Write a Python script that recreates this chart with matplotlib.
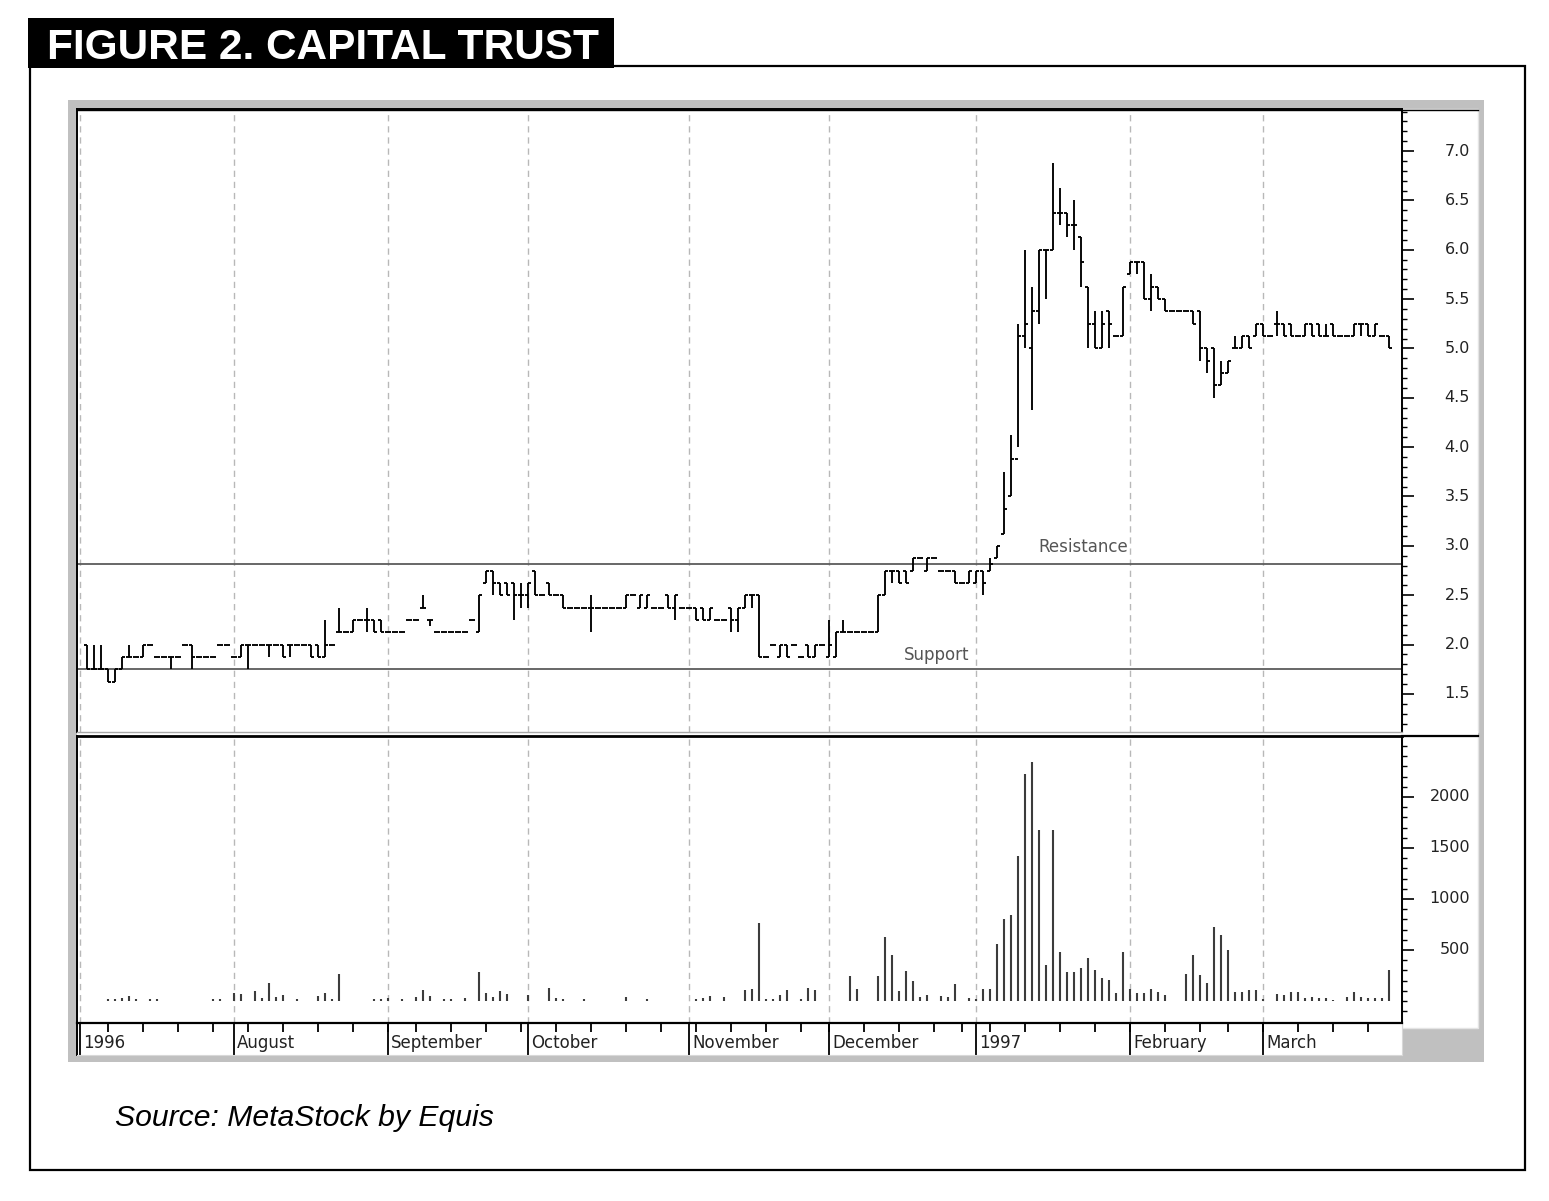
import numpy as np
import pandas as pd
import matplotlib
matplotlib.use("Agg")
import matplotlib.pyplot as plt
from matplotlib.patches import Rectangle
from matplotlib.lines import Line2D
from matplotlib.transforms import blended_transform_factory

# ---------------- data ----------------
holidays = ["1996-07-04", "1996-09-02", "1996-11-28", "1996-12-25",
            "1997-01-01", "1997-02-17", "1997-03-28"]
dates = pd.bdate_range("1996-07-02", "1997-03-27", freq="C", holidays=holidays)

opens = [
    2.0, 1.75, 1.75, 1.75, 1.625, 1.75, 1.875, 1.875, 1.875, 2.0,
    1.875, 1.875, 1.875, 1.875, 2.0, 2.0, 1.875, 1.875, 1.875, 2.0,
    2.0, 1.875, 1.875, 2.0, 2.0, 2.0, 2.0, 2.0, 2.0, 2.0,
    2.0, 2.0, 2.0, 2.0, 1.875, 2.0, 2.125, 2.125, 2.125, 2.25,
    2.25, 2.25, 2.25, 2.125, 2.125, 2.125, 2.25, 2.25, 2.375, 2.25,
    2.125, 2.125, 2.125, 2.125, 2.125, 2.25, 2.125, 2.625, 2.75, 2.625,
    2.625, 2.625, 2.5, 2.5, 2.75, 2.5, 2.625, 2.5, 2.5, 2.375,
    2.375, 2.375, 2.375, 2.375, 2.375, 2.375, 2.375, 2.375, 2.5, 2.375,
    2.375, 2.375, 2.375, 2.5, 2.375, 2.375, 2.375, 2.375, 2.375, 2.25,
    2.25, 2.25, 2.375, 2.25, 2.375, 2.5, 2.5, 1.875, 2.0, 1.875,
    2.0, 2.0, 1.875, 2.0, 1.875, 2.0, 1.875, 1.875, 2.125, 2.125,
    2.125, 2.125, 2.125, 2.125, 2.5, 2.75, 2.75, 2.75, 2.75, 2.875,
    2.75, 2.875, 2.75, 2.75, 2.75, 2.625, 2.625, 2.625, 2.75, 2.75,
    2.875, 3.125, 3.5, 3.875, 5.125, 5.0, 5.375, 6.0, 6.0, 6.375,
    6.375, 6.25, 6.125, 5.625, 5.25, 5.0, 5.375, 5.125, 5.125, 5.75,
    5.875, 5.875, 5.5, 5.625, 5.5, 5.375, 5.375, 5.375, 5.375, 5.375,
    5.0, 5.0, 4.625, 4.75, 5.0, 5.0, 5.125, 5.125, 5.25, 5.125,
    5.25, 5.25, 5.25, 5.125, 5.125, 5.25, 5.25, 5.125, 5.25, 5.125,
    5.125, 5.125, 5.25, 5.25, 5.125, 5.125, 5.125]

highs = [
    2.0, 2.0, 2.0, 1.75, 1.75, 1.875, 2.0, 1.875, 2.0, 2.0,
    1.875, 1.875, 1.875, 1.875, 2.0, 2.0, 1.875, 1.875, 1.875, 2.0,
    2.0, 1.875, 2.0, 2.0, 2.0, 2.0, 2.0, 2.0, 2.0, 2.0,
    2.0, 2.0, 2.0, 2.0, 2.25, 2.0, 2.375, 2.125, 2.25, 2.25,
    2.375, 2.25, 2.25, 2.125, 2.125, 2.125, 2.25, 2.25, 2.5, 2.25,
    2.125, 2.125, 2.125, 2.125, 2.125, 2.25, 2.5, 2.75, 2.75, 2.625,
    2.625, 2.625, 2.625, 2.625, 2.75, 2.5, 2.625, 2.5, 2.5, 2.375,
    2.375, 2.375, 2.5, 2.375, 2.375, 2.375, 2.375, 2.5, 2.5, 2.5,
    2.5, 2.375, 2.375, 2.5, 2.5, 2.375, 2.375, 2.375, 2.375, 2.375,
    2.25, 2.25, 2.375, 2.375, 2.5, 2.5, 2.5, 1.875, 2.0, 2.0,
    2.0, 2.0, 1.875, 2.0, 2.0, 2.0, 2.25, 2.125, 2.25, 2.125,
    2.125, 2.125, 2.125, 2.5, 2.75, 2.75, 2.75, 2.75, 2.875, 2.875,
    2.875, 2.875, 2.75, 2.75, 2.75, 2.625, 2.75, 2.75, 2.75, 2.875,
    3.0, 3.75, 4.125, 5.25, 6.0, 5.625, 6.0, 6.0, 6.875, 6.625,
    6.375, 6.5, 6.125, 5.625, 5.375, 5.375, 5.375, 5.125, 5.625, 5.875,
    5.875, 5.875, 5.75, 5.625, 5.5, 5.375, 5.375, 5.375, 5.375, 5.375,
    5.0, 5.0, 4.875, 4.875, 5.125, 5.125, 5.125, 5.25, 5.25, 5.125,
    5.375, 5.25, 5.25, 5.125, 5.25, 5.25, 5.25, 5.25, 5.25, 5.125,
    5.125, 5.25, 5.25, 5.25, 5.25, 5.125, 5.125]

lows = [
    1.75, 1.75, 1.75, 1.625, 1.625, 1.75, 1.875, 1.875, 1.875, 2.0,
    1.875, 1.875, 1.75, 1.875, 2.0, 1.75, 1.875, 1.875, 1.875, 2.0,
    2.0, 1.875, 1.875, 1.75, 2.0, 2.0, 1.875, 2.0, 1.875, 1.875,
    2.0, 2.0, 1.875, 1.875, 1.875, 2.0, 2.125, 2.125, 2.125, 2.25,
    2.125, 2.125, 2.125, 2.125, 2.125, 2.125, 2.25, 2.25, 2.375, 2.1875,
    2.125, 2.125, 2.125, 2.125, 2.125, 2.25, 2.125, 2.625, 2.5, 2.5,
    2.5, 2.25, 2.375, 2.375, 2.5, 2.5, 2.5, 2.5, 2.375, 2.375,
    2.375, 2.375, 2.125, 2.375, 2.375, 2.375, 2.375, 2.375, 2.5, 2.375,
    2.375, 2.375, 2.375, 2.375, 2.25, 2.375, 2.375, 2.25, 2.25, 2.25,
    2.25, 2.25, 2.125, 2.125, 2.375, 2.375, 1.875, 1.875, 2.0, 1.875,
    1.875, 2.0, 1.875, 1.875, 1.875, 2.0, 1.875, 1.875, 2.125, 2.125,
    2.125, 2.125, 2.125, 2.125, 2.5, 2.625, 2.625, 2.625, 2.75, 2.875,
    2.75, 2.875, 2.75, 2.75, 2.625, 2.625, 2.625, 2.625, 2.5, 2.75,
    2.875, 3.125, 3.5, 4.0, 5.0, 4.375, 5.25, 5.5, 6.0, 6.25,
    6.125, 6.0, 5.625, 5.0, 5.0, 5.0, 5.0, 5.125, 5.125, 5.75,
    5.75, 5.5, 5.375, 5.5, 5.375, 5.375, 5.375, 5.375, 5.25, 4.875,
    4.75, 4.5, 4.625, 4.75, 5.0, 5.0, 5.0, 5.125, 5.125, 5.125,
    5.125, 5.125, 5.125, 5.125, 5.125, 5.125, 5.125, 5.125, 5.125, 5.125,
    5.125, 5.125, 5.125, 5.125, 5.125, 5.125, 5.0]

closes = [
    1.75, 1.75, 1.75, 1.625, 1.75, 1.875, 1.875, 1.875, 2.0, 2.0,
    1.875, 1.875, 1.875, 1.875, 2.0, 1.875, 1.875, 1.875, 1.875, 2.0,
    2.0, 1.875, 2.0, 2.0, 2.0, 2.0, 2.0, 2.0, 1.875, 2.0,
    2.0, 2.0, 1.875, 1.875, 2.0, 2.0, 2.125, 2.125, 2.25, 2.25,
    2.25, 2.125, 2.125, 2.125, 2.125, 2.125, 2.25, 2.25, 2.375, 2.25,
    2.125, 2.125, 2.125, 2.125, 2.125, 2.25, 2.5, 2.75, 2.625, 2.5,
    2.5, 2.5, 2.5, 2.625, 2.5, 2.5, 2.5, 2.5, 2.375, 2.375,
    2.375, 2.375, 2.375, 2.375, 2.375, 2.375, 2.375, 2.5, 2.5, 2.5,
    2.5, 2.375, 2.375, 2.375, 2.5, 2.375, 2.375, 2.25, 2.25, 2.375,
    2.25, 2.25, 2.25, 2.375, 2.5, 2.5, 1.875, 1.875, 2.0, 2.0,
    1.875, 2.0, 1.875, 1.875, 2.0, 2.0, 2.0, 2.125, 2.125, 2.125,
    2.125, 2.125, 2.125, 2.5, 2.75, 2.75, 2.625, 2.625, 2.875, 2.875,
    2.875, 2.875, 2.75, 2.75, 2.625, 2.625, 2.75, 2.75, 2.625, 2.8125,
    3.0, 3.375, 3.875, 5.125, 5.25, 5.375, 6.0, 6.0, 6.375, 6.375,
    6.25, 6.25, 5.875, 5.25, 5.0, 5.25, 5.25, 5.125, 5.625, 5.875,
    5.875, 5.5, 5.625, 5.5, 5.375, 5.375, 5.375, 5.375, 5.25, 5.0,
    4.875, 4.625, 4.75, 4.875, 5.0, 5.125, 5.0, 5.25, 5.125, 5.125,
    5.25, 5.125, 5.125, 5.125, 5.25, 5.125, 5.125, 5.125, 5.125, 5.125,
    5.125, 5.25, 5.25, 5.125, 5.25, 5.125, 5.0]

volume = [
    0, 0, 0, 20, 20, 25, 50, 20, 0, 20,
    20, 0, 0, 0, 0, 0, 0, 0, 20, 20,
    0, 75, 70, 0, 95, 25, 180, 40, 60, 0,
    20, 0, 0, 50, 75, 20, 265, 0, 0, 0,
    0, 20, 20, 25, 0, 20, 0, 40, 110, 50,
    0, 20, 20, 0, 25, 0, 280, 80, 40, 95,
    70, 0, 0, 60, 0, 0, 130, 25, 20, 0,
    0, 15, 0, 0, 0, 0, 0, 40, 0, 0,
    20, 0, 0, 0, 0, 0, 0, 15, 30, 50,
    0, 35, 0, 0, 105, 120, 760, 15, 15, 60,
    105, 0, 15, 130, 105, 0, 0, 0, 0, 240,
    120, 0, 0, 240, 630, 450, 100, 290, 200, 35,
    60, 0, 45, 35, 170, 0, 25, 15, 115, 115,
    560, 800, 840, 1420, 2230, 2345, 1676, 350, 1676, 484,
    288, 288, 320, 418, 301, 222, 203, 78, 484, 114,
    78, 78, 114, 92, 56, 0, 0, 268, 451, 252,
    173, 725, 647, 497, 92, 92, 105, 105, 16, 0,
    72, 56, 92, 92, 33, 43, 33, 25, 10, 0,
    43, 92, 43, 25, 25, 33, 304]

month_labels = ["1996", "August", "September", "October", "November",
                "December", "1997", "February", "March"]
price_ticks = [1.5, 2.0, 2.5, 3.0, 3.5, 4.0, 4.5, 5.0, 5.5, 6.0, 6.5, 7.0]
volume_ticks = [500, 1000, 1500, 2000]
resistance = 2.82
support = 1.75

# ---------------- derived positions ----------------
n = len(dates)
x = np.arange(n)
O = np.array(opens); Hh = np.array(highs); L = np.array(lows); C = np.array(closes)
V = np.array(volume)

month_pos = [-1]  # July 1 sits just before the first plotted bar
for i in range(1, n):
    if dates[i].month != dates[i - 1].month:
        month_pos.append(i)
week_pos = [i for i in range(1, n) if dates[i].weekday() < dates[i - 1].weekday()]

# ---------------- figure ----------------
W, H = 1549, 1201
fig = plt.figure(figsize=(W / 100, H / 100), dpi=100)
fig.patch.set_facecolor("white")


def frect(x0, y0, x1, y1, **kw):
    r = Rectangle((x0 / W, 1 - y1 / H), (x1 - x0) / W, (y1 - y0) / H,
                  transform=fig.transFigure, **kw)
    fig.add_artist(r)
    return r


def fline(xs, ys, **kw):
    ln = Line2D([v / W for v in xs], [1 - v / H for v in ys],
                transform=fig.transFigure, **kw)
    fig.add_artist(ln)


def fax(x0, y0, x1, y1):
    return fig.add_axes([x0 / W, 1 - y1 / H, (x1 - x0) / W, (y1 - y0) / H])


frect(30, 66, 1525, 1170, facecolor="none", edgecolor="black", lw=1.6, zorder=-3)
frect(68, 100, 1484, 1062, facecolor="#c0c0c0", edgecolor="none", zorder=-2)
frect(1402, 109, 1478, 732, facecolor="white", edgecolor="#e4e4e4", lw=1.0, zorder=-1)
frect(1402, 736, 1478, 1028, facecolor="white", edgecolor="#e4e4e4", lw=1.0, zorder=-1)
frect(77, 731, 1478, 737, facecolor="white", edgecolor="none", zorder=-1)
frect(28, 18, 614, 68, facecolor="black", edgecolor="none", zorder=5)

XMIN, XMAX = -1.43, 187.86
grid_kw = dict(color="#b8b8b8", lw=1.0, linestyles=(0, (4.5, 3.5)), zorder=0)
FONT = "DejaVu Sans"
TICK = 0.37

# ---- price panel ----
ax_p = fax(77, 109, 1402, 732)
ax_p.set_xlim(XMIN, XMAX)
ax_p.set_ylim(1.114, 7.426)
ax_p.vlines(month_pos, 1.114, 7.426, **grid_kw)
ax_p.axhline(resistance, color="#5c5c5c", lw=1.3, zorder=1)
ax_p.axhline(support, color="#5c5c5c", lw=1.3, zorder=1)
bars = ax_p.vlines(x, L, Hh, color="black", lw=1.35, zorder=3)
bars.set_capstyle("butt")
ax_p.hlines(O, x - TICK, x, color="black", lw=1.35, zorder=3)
ax_p.hlines(C, x, x + TICK, color="black", lw=1.35, zorder=3)
ax_p.text(142.3, 2.99, "Resistance", color="#555555", fontsize=12, family=FONT,
          ha="center", va="center")
ax_p.text(121.4, 1.895, "Support", color="#555555", fontsize=12, family=FONT,
          ha="center", va="center")
ax_p.set_xticks([])
ax_p.yaxis.tick_right()
ax_p.set_yticks(price_ticks)
ax_p.set_yticks(np.round(np.arange(1.2, 7.41, 0.1), 2), minor=True)
ax_p.tick_params(axis="y", which="major", length=8.5, width=1.2, labelright=False,
                 labelleft=False, right=True, left=False, color="black")
ax_p.tick_params(axis="y", which="minor", length=3.5, width=1.0, right=True, left=False)
for s in ["left", "top", "right"]:
    ax_p.spines[s].set_color("black")
    ax_p.spines[s].set_linewidth(1.4)
ax_p.spines["bottom"].set_color("#a8a8a8")
ax_p.spines["bottom"].set_linewidth(1.0)
tp = blended_transform_factory(fig.transFigure, ax_p.transData)
for v in price_ticks:
    ax_p.text(1470 / W, v, f"{v:.1f}", transform=tp, ha="right", va="center",
              fontsize=11.5, family=FONT, color="#222222", clip_on=False)

# ---- volume panel ----
ax_v = fax(77, 736, 1402, 1023)
ax_v.set_xlim(XMIN, XMAX)
ax_v.set_ylim(-216, 2598)
ax_v.vlines(month_pos, -216, 2598, **grid_kw)
mask = V > 0
vb = ax_v.vlines(x[mask], 0, V[mask], color="#3c3c3c", lw=1.5, zorder=3)
vb.set_capstyle("butt")
ax_v.set_xticks([])
ax_v.yaxis.tick_right()
ax_v.set_yticks(volume_ticks)
ax_v.set_yticks(np.arange(-100, 2501, 100), minor=True)
ax_v.tick_params(axis="y", which="major", length=8.5, width=1.2, labelright=False,
                 labelleft=False, right=True, left=False)
ax_v.tick_params(axis="y", which="minor", length=3.5, width=1.0, right=True, left=False)
for s in ["left", "right", "bottom"]:
    ax_v.spines[s].set_color("black")
    ax_v.spines[s].set_linewidth(1.4)
ax_v.spines["top"].set_color("black")
ax_v.spines["top"].set_linewidth(2.0)
tv = blended_transform_factory(fig.transFigure, ax_v.transData)
for v in volume_ticks:
    ax_v.text(1470 / W, v, f"{v}", transform=tv, ha="right", va="center",
              fontsize=11.5, family=FONT, color="#222222", clip_on=False)

fline([77, 1478], [109.5, 109.5], color="black", lw=1.0, zorder=4)
fline([1402, 1478], [736, 736], color="black", lw=1.6, zorder=4)

# ---- x axis strip ----
ax_x = fax(77, 1023, 1402, 1055)
ax_x.set_xlim(XMIN, XMAX)
ax_x.set_ylim(0, 1)
ax_x.set_xticks([]); ax_x.set_yticks([])
ax_x.vlines(month_pos, 0, 1, color="black", lw=1.3)
ax_x.vlines(week_pos, 0.72, 1, color="black", lw=1.3)
for m, lab in zip(month_pos, month_labels):
    ax_x.text(m + 0.45, 0.36, lab, ha="left", va="center", fontsize=12,
              family=FONT, color="#222222")
ax_x.spines["top"].set_color("black")
ax_x.spines["top"].set_linewidth(1.6)
ax_x.spines["left"].set_color("black")
ax_x.spines["left"].set_linewidth(1.4)
ax_x.spines["right"].set_color("#d8d8d8")
ax_x.spines["bottom"].set_color("#d8d8d8")

# ---- title & source ----
title = fig.text(47 / W, 1 - 59 / H, "FIGURE 2. CAPITAL TRUST", color="white",
                 fontsize=30, fontweight="bold", family="Liberation Sans",
                 ha="left", va="baseline", zorder=6)
source = fig.text(115 / W, 1 - 1126 / H, "Source: MetaStock by Equis", color="black",
                  fontsize=21, style="italic", family="Liberation Sans",
                  ha="left", va="baseline")
fig.canvas.draw()
r = fig.canvas.get_renderer()
for t, target in [(title, 551), (source, 379)]:
    bb = t.get_window_extent(r)
    t.set_fontsize(t.get_fontsize() * target / bb.width)

fig.savefig("out.png", dpi=100, facecolor="white")
